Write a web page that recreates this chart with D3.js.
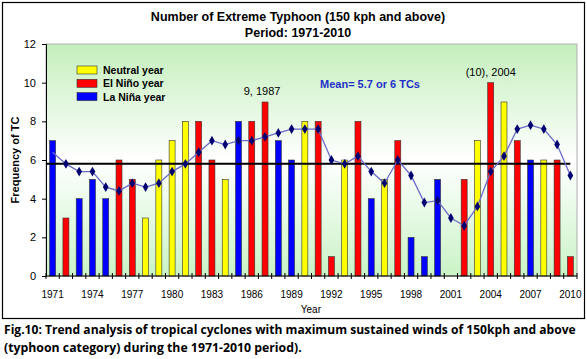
<!DOCTYPE html>
<html>
<head>
<meta charset="utf-8">
<script src="https://cdn.jsdelivr.net/npm/d3@7"></script>
<style>
  body { margin: 0; background: #fff; }
  svg text { font-family: "Liberation Sans", Arial, sans-serif; }
</style>
</head>
<body>
<div id="chart"></div>
<script>
// ---- data ----
const years = d3.range(1971, 2011);
const counts = [7, 3, 4, 5, 4, 6, 5, 3, 6, 7,
                8, 8, 6, 5, 8, 8, 9, 7, 6, 8,
                8, 1, 6, 8, 4, 5, 7, 2, 1, 5,
                0, 5, 7, 10, 9, 7, 6, 6, 6, 1];
// N = neutral, E = El Nino, L = La Nina
const phase = ["L", "E", "L", "L", "L", "E", "E", "N", "N", "N",
               "N", "E", "E", "N", "L", "E", "E", "L", "L", "N",
               "E", "E", "N", "E", "L", "N", "E", "L", "L", "L",
               "N", "E", "N", "E", "N", "E", "L", "N", "E", "E"];
const trend = [6.4, 5.8, 5.4, 5.4, 4.6, 4.4, 4.8, 4.6, 4.8, 5.4,
               5.8, 6.4, 7.0, 6.8, 7.0, 7.0, 7.2, 7.4, 7.6, 7.6,
               7.6, 6.0, 5.8, 6.2, 5.4, 4.8, 6.0, 5.2, 3.8, 3.9,
               3.0, 2.6, 3.6, 5.4, 6.2, 7.6, 7.8, 7.6, 6.8, 5.2];
const meanLine = 5.8;
const yTicks = [0, 2, 4, 6, 8, 10, 12];
const xTickYears = d3.range(1971, 2011, 3);
const legendItems = [
  { key: "N", label: "Neutral year" },
  { key: "E", label: "El Niño year" },
  { key: "L", label: "La Niña year" }
];
const phaseColor = { N: "#ffff00", E: "#ff0000", L: "#0000ff" };
const captionLines = [
  "Fig.10: Trend analysis of tropical cyclones with maximum sustained winds of 150kph and above",
  "(typhoon category) during the 1971-2010  period)."
];

// ---- svg ----
const W = 587, H = 359;
const svg = d3.select("#chart").append("svg")
  .attr("width", W).attr("height", H);

const plot = { left: 46, right: 577, top: 44, bottom: 276 };

const x = d3.scaleBand()
  .domain(years)
  .range([plot.left, plot.right])
  .paddingInner(0.55)
  .paddingOuter(0.275);
const y = d3.scaleLinear().domain([0, 12]).range([plot.bottom, plot.top]);
const xc = yr => x(yr) + x.bandwidth() / 2;

// outer frame
svg.append("rect")
  .attr("x", 2.5).attr("y", 2.5)
  .attr("width", 582).attr("height", 316)
  .attr("fill", "#fff").attr("stroke", "#000").attr("stroke-width", 1.2);

// plot background gradient
const grad = svg.append("defs").append("linearGradient")
  .attr("id", "bg").attr("x1", 0).attr("x2", 0).attr("y1", 0).attr("y2", 1);
grad.append("stop").attr("offset", "0%").attr("stop-color", "#c4efbc");
grad.append("stop").attr("offset", "50%").attr("stop-color", "#ffffff");
grad.append("stop").attr("offset", "100%").attr("stop-color", "#caf3c6");

svg.append("rect")
  .attr("x", plot.left).attr("y", plot.top)
  .attr("width", plot.right - plot.left).attr("height", plot.bottom - plot.top)
  .attr("fill", "url(#bg)").attr("stroke", "#b0b0b0").attr("stroke-width", 1);

// bars
svg.selectAll("rect.bar")
  .data(years.map((yr, i) => ({ yr, v: counts[i], p: phase[i] })).filter(d => d.v > 0))
  .enter().append("rect")
  .attr("class", "bar")
  .attr("x", d => x(d.yr))
  .attr("width", x.bandwidth())
  .attr("y", d => y(d.v))
  .attr("height", d => y(0) - y(d.v))
  .attr("fill", d => phaseColor[d.p])
  .attr("stroke", "#333")
  .attr("stroke-width", 0.6);

// mean line
svg.append("line")
  .attr("x1", plot.left).attr("x2", xc(2010))
  .attr("y1", y(meanLine)).attr("y2", y(meanLine))
  .attr("stroke", "#000").attr("stroke-width", 2);

// trend line
const line = d3.line().x((d, i) => xc(years[i])).y(d => y(d));
svg.append("path")
  .datum(trend)
  .attr("d", line)
  .attr("fill", "none")
  .attr("stroke", "#6a6ac8")
  .attr("stroke-width", 1.3);

svg.selectAll("path.mk")
  .data(trend.slice(1))
  .enter().append("path")
  .attr("class", "mk")
  .attr("d", d3.symbol().type(d3.symbolDiamond).size(28))
  .attr("transform", (d, i) => `translate(${xc(years[i + 1])},${y(d)})`)
  .attr("fill", "#000070");

// axes
const yAxis = d3.axisLeft(y).tickValues(yTicks).tickSize(4).tickPadding(6);
const gy = svg.append("g").attr("transform", `translate(${plot.left},0)`).call(yAxis);
gy.select(".domain").attr("stroke", "#000");
gy.selectAll("text").attr("font-size", 11).attr("fill", "#000");

svg.append("line")
  .attr("x1", plot.left).attr("x2", plot.right)
  .attr("y1", plot.bottom).attr("y2", plot.bottom)
  .attr("stroke", "#000");
// crossing tick marks between years
svg.selectAll("line.xt")
  .data(years.concat([2011]))
  .enter().append("line")
  .attr("class", "xt")
  .attr("x1", d => d === 2011 ? plot.right : x(d) - x.step() * x.paddingInner() / 2)
  .attr("x2", d => d === 2011 ? plot.right : x(d) - x.step() * x.paddingInner() / 2)
  .attr("y1", plot.bottom - 3).attr("y2", plot.bottom + 3)
  .attr("stroke", "#000");

svg.selectAll("text.xl")
  .data(xTickYears)
  .enter().append("text")
  .attr("class", "xl")
  .attr("x", d => xc(d))
  .attr("y", 298)
  .attr("text-anchor", "middle")
  .attr("font-size", 10)
  .text(d => d);

// axis titles
svg.append("text")
  .attr("x", xc(1990) + 6).attr("y", 313)
  .attr("text-anchor", "middle").attr("font-size", 10)
  .text("Year");
svg.append("text")
  .attr("transform", "translate(19,160) rotate(-90)")
  .attr("text-anchor", "middle").attr("font-size", 11).attr("font-weight", "bold")
  .text("Frequency of TC");

// title
svg.append("text")
  .attr("x", 298).attr("y", 21)
  .attr("text-anchor", "middle").attr("font-size", 12.5).attr("font-weight", "bold")
  .text("Number of Extreme Typhoon (150 kph and above)");
svg.append("text")
  .attr("x", 298).attr("y", 37)
  .attr("text-anchor", "middle").attr("font-size", 12.5).attr("font-weight", "bold")
  .text("Period: 1971-2010");

// legend
const lg = svg.selectAll("g.lg")
  .data(legendItems)
  .enter().append("g")
  .attr("class", "lg")
  .attr("transform", (d, i) => `translate(77,${66 + i * 13.3})`);
lg.append("rect")
  .attr("width", 20).attr("height", 8)
  .attr("fill", d => phaseColor[d.key])
  .attr("stroke", "#333").attr("stroke-width", 0.6);
lg.append("text")
  .attr("x", 26).attr("y", 8)
  .attr("font-size", 10.5).attr("font-weight", "bold")
  .text(d => d.label);

// annotations
svg.append("text")
  .attr("x", xc(1987) - 3).attr("y", 95)
  .attr("text-anchor", "middle").attr("font-size", 11)
  .text("9, 1987");
svg.append("text")
  .attr("x", xc(2004)).attr("y", 76)
  .attr("text-anchor", "middle").attr("font-size", 11)
  .text("(10), 2004");
svg.append("text")
  .attr("x", 370).attr("y", 88)
  .attr("text-anchor", "middle").attr("font-size", 11).attr("font-weight", "bold")
  .attr("fill", "#1f2fc8")
  .text("Mean= 5.7 or 6 TCs");

// caption: squeeze horizontally like the narrow original font
const capWidths = [572, 298];
svg.selectAll("text.cap")
  .data(captionLines)
  .enter().append("text")
  .attr("class", "cap")
  .attr("font-weight", "bold").attr("font-size", 13)
  .style("font-family", "'Open Sans', 'Noto Sans', sans-serif")
  .text(d => d)
  .attr("transform", function(d, i) {
    const w = this.getComputedTextLength();
    return `translate(4,${334 + i * 18}) scale(${capWidths[i] / w},1)`;
  });
</script>
</body>
</html>
